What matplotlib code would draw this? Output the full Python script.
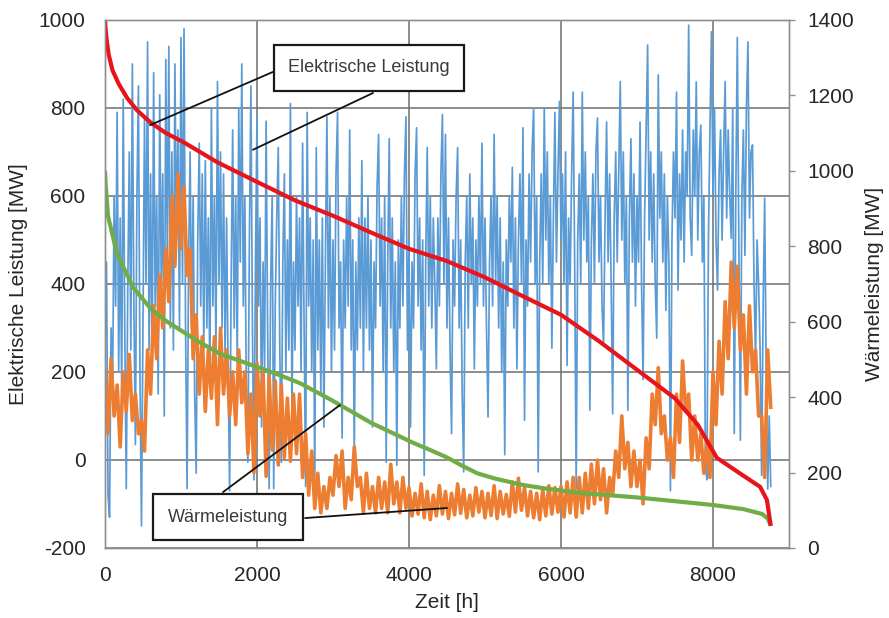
"""Hourly electric and heat output over one year, with sorted duration curves."""

import matplotlib

matplotlib.use("Agg")
import matplotlib.pyplot as plt
import numpy as np

plt.rcParams["font.family"] = ["Liberation Sans", "DejaVu Sans"]
plt.rcParams["axes.unicode_minus"] = False

# electric output [MW], left axis, every 20 h
ELEC_STEP_H = 20
ELEC_MW = [
    # 0 - 980 h
    250, 450, -80, -130, 300, 150, 600, 350, 790, 200,
    550, 150, 820, 300, -65, 400, 700, 250, 900, 350,
    35, 600, 850, 200, -150, 300, 780, 400, 950, 250,
    650, 200, 880, 350, 600, 150, 830, 400, 650, 100,
    910, 450, 940, 300, 700, 250, 900, 500, 750, 300,
    # 1000 - 1980 h
    960, 400, 980, 300, -65, 450, 700, 300, 600, 150,
    -30, 500, 720, 350, 650, 250, 680, 300, 550, 180,
    800, 350, 600, 250, 860, 400, 700, 300, 650, 230,
    550, 200, -70, 400, 750, 300, 600, 220, 800, 450,
    900, 350, 600, 150, -5, 500, 850, 300, -45, 450,
    # 2000 - 2980 h
    780, 350, 550, 75, 450, 200, 770, 300, -65, 400,
    600, -65, 350, 550, 710, 250, -5, 450, 650, 200,
    500, 250, 810, 105, 450, 250, 600, 350, 550, 200,
    720, 300, -60, 790, 350, 550, 200, 500, -65, 710,
    250, 500, 150, 550, 75, 450, 780, 300, 600, 200,
    # 3000 - 3980 h
    500, 250, 650, 790, 300, 450, 50, 500, 300, 600,
    350, 750, 250, 500, 10, 450, 250, 550, 300, 680,
    200, 550, 300, 600, 250, 500, 75, 450, 300, 620,
    740, 350, 550, 200, 600, -5, 450, 730, 300, 550,
    200, 450, -12, 500, 300, 600, 350, 650, 780, 250,
    # 4000 - 4980 h
    500, 75, 450, 300, 650, 755, 350, 550, 250, 500,
    -35, 450, 710, 350, 600, 300, 550, 400, 207, 550,
    350, 650, 785, 400, 740, 300, 550, 250, 60, 500,
    350, 600, 710, 300, 500, 150, -27, 450, 600, 300,
    650, 400, 550, 207, 500, 350, 600, 400, 720, 350,
    # 5000 - 5980 h
    550, 300, 98, 450, 600, 350, 740, 400, 600, 300,
    550, 200, 450, 12, 500, 350, 600, 450, 665, 300,
    550, 207, 500, 650, 400, 755, 90, 500, 350, 650,
    450, 700, 800, 400, 600, -27, 450, 650, 400, 800,
    500, 700, 400, 600, 254, 550, 790, 450, 650, 815,
    # 6000 - 6980 h
    500, 650, 400, 700, 215, 550, 400, 650, 836, 450,
    -65, 500, 650, 400, 836, 500, 700, 450, 600, 113,
    500, 650, 400, 700, 777, 450, 600, 350, 262, 550,
    768, 450, 650, 400, 105, 550, 700, 450, 650, 860,
    500, 700, 400, 600, 113, 550, 730, 450, 650, 350,
    # 7000 - 7980 h
    600, 450, 768, 400, 183, 550, 750, 943, 500, 700,
    450, 650, 400, 277, 875, 550, 700, 450, 650, 340,
    600, 450, -70, 500, 700, 550, 836, 386, 650, 500,
    750, 450, 700, 600, 988, 550, 465, 750, 600, 859,
    500, 700, 761, 450, 600, -12, -45, 500, 750, 973,
    # 8000 - 8760 h
    600, 800, 500, 386, 650, 750, 500, 700, 860, 550,
    750, 600, 504, 800, 60, 600, 960, 500, 45, 600,
    750, 465, 800, 950, 550, 700, 716, 400, 230, 500,
    400, 250, -35, 350, 595, 200, -66, 100, -60,
]

# heat output [MW], right axis, every 40 h
HEAT_STEP_H = 40
HEAT_MW = [
    467, 303, 502, 350, 432, 268, 467, 362, 513, 338, 408, 303, 338, 257, 525, 408, 642, 502, 723, 583, 793, 653, 933, 747, 992,
    793, 957, 723, 793, 502, 618, 408, 560, 362, 525, 397, 560, 327, 583, 408, 525, 350, 467, 327, 525, 385, 467, 250, 408, 200,
    490, 350, 467, 190, 455, 260, 443, 220, 432, 240, 397, 230, 408, 250, 408, 187, 303, 140, 257, 105, 198, 93, 163, 105, 187,
    140, 245, 163, 257, 105, 187, 128, 268, 163, 187, 93, 198, 105, 163, 93, 187, 105, 175, 93, 222, 117, 175, 93, 187, 105,
    160, 85, 145, 90, 170, 80, 150, 75, 140, 85, 165, 90, 150, 78, 145, 88, 170, 92, 155, 80, 140, 85, 160, 95, 150,
    80, 145, 86, 165, 78, 150, 90, 142, 84, 175, 95, 185, 100, 160, 85, 150, 80, 145, 75, 155, 85, 165, 90, 160, 95,
    163, 82, 175, 93, 187, 82, 187, 93, 198, 105, 222, 117, 233, 128, 210, 93, 187, 140, 257, 187, 350, 210, 280, 163, 257,
    163, 233, 117, 292, 210, 408, 327, 478, 303, 350, 233, 292, 187, 408, 280, 496, 362, 408, 233, 350, 233, 303, 198, 280, 187,
    467, 327, 548, 408, 653, 502, 758, 583, 747, 525, 618, 408, 642, 467, 525, 350, 350, 187, 525, 373,
]

# duration curve, electric [MW] (left axis)
ELEC_SORTED_H = [0, 10, 25, 50, 100, 180, 290, 420, 592, 800, 1026, 1474, 2000, 2500, 3000, 3500,
                 4000, 4500, 5000, 5500, 6000, 6500, 7000, 7500, 7800, 8050, 8350, 8620, 8710, 8760]
ELEC_SORTED_MW = [1000, 975, 950, 920, 885, 855, 823, 795, 768, 743, 723, 677, 632, 590, 555, 517,
                  480, 452, 415, 372, 330, 270, 205, 140, 80, 5, -30, -61, -91, -150]

# duration curve, heat [MW] (right axis)
HEAT_SORTED_H = [0, 10, 40, 158, 373, 600, 816, 1250, 1513, 2000, 2303, 2566, 3000, 3500,
                 4053, 4300, 4500, 4710, 4900, 5132, 5500, 5816, 6250, 7000, 7500, 8000, 8400,
                 8650, 8720, 8760]
HEAT_SORTED_MW = [1000, 960, 880, 780, 690, 635, 600, 545, 515, 480, 458, 437, 390, 332,
                  279, 258, 240, 217, 198, 184, 167, 157, 146, 134, 124, 114, 103,
                  90, 78, 60]

BLUE, ORANGE, RED, GREEN = "#5b9bd5", "#ed7d31", "#e8141c", "#70ad47"
GRID = "#6e6e6e"
SPINE = "#8f8f8f"
TEXT = "#262626"


def main() -> None:
    elec_h = np.arange(len(ELEC_MW)) * ELEC_STEP_H
    heat_h = np.arange(len(HEAT_MW)) * HEAT_STEP_H

    fig = plt.figure(figsize=(8.89, 6.18), dpi=100)
    ax = fig.add_axes([0.1181, 0.1133, 0.7694, 0.8544])
    ax2 = ax.twinx()

    ax.set_xlim(0, 9000)
    ax.set_ylim(-200, 1000)
    ax2.set_ylim(0, 1400)

    # everything is drawn in ax so the stacking order is free;
    # heat series use the right axis scale through ax2.transData
    ax.plot(elec_h, ELEC_MW, color=BLUE, lw=1.25, zorder=2)
    ax.plot(heat_h, HEAT_MW, color=ORANGE, lw=2.6, zorder=3, transform=ax2.transData)
    ax.plot(HEAT_SORTED_H, HEAT_SORTED_MW, color=GREEN, lw=3.0, zorder=4,
            transform=ax2.transData, solid_capstyle="butt")
    ax.plot(ELEC_SORTED_H, ELEC_SORTED_MW, color=RED, lw=3.0, zorder=5, solid_capstyle="butt")

    ax.set_xticks(np.arange(0, 9000, 2000))
    ax.set_yticks(np.arange(-200, 1001, 200))
    ax2.set_yticks(np.arange(0, 1401, 200))
    ax.grid(True, color=GRID, lw=1.1)
    ax.set_axisbelow(True)

    ax.tick_params(axis="both", length=0, labelsize=15, labelcolor=TEXT)
    ax.tick_params(axis="x", pad=13)
    ax.tick_params(axis="y", pad=14)
    ax2.tick_params(axis="y", length=4, width=1, color=SPINE, labelsize=15,
                    labelcolor=TEXT, pad=9)

    for a in (ax, ax2):
        for s in a.spines.values():
            s.set_color(SPINE)
            s.set_linewidth(1.0)

    ax.set_xlabel("Zeit [h]", fontsize=15, color=TEXT, labelpad=6)
    ax.set_ylabel("Elektrische Leistung [MW]", fontsize=15, color=TEXT, labelpad=8)
    ax2.set_ylabel("Wärmeleistung [MW]", fontsize=15, color=TEXT, labelpad=8)

    box = dict(boxstyle="square,pad=0.8", fc="white", ec="#1a1a1a", lw=1.6)
    ax.text(3474, 891, "Elektrische Leistung", ha="center", va="center", fontsize=13,
            color="#3a3a3a", bbox=box, zorder=10)
    ax.text(1618, -130, "Wärmeleistung", ha="center", va="center", fontsize=13,
            color="#3a3a3a", bbox=box, zorder=10)

    leader = dict(arrowstyle="-", color="#111111", lw=1.3, shrinkA=0, shrinkB=0)
    ax.annotate("", xy=(592, 761), xytext=(2211, 882), arrowprops=leader, zorder=9)
    ax.annotate("", xy=(1947, 705), xytext=(3526, 834), arrowprops=leader, zorder=9)
    ax.annotate("", xy=(3092, 379), xycoords=ax2.transData, xytext=(1553, -73),
                textcoords=ax.transData, arrowprops=leader, zorder=9)
    ax.annotate("", xy=(4500, 106), xycoords=ax2.transData, xytext=(2632, -132),
                textcoords=ax.transData, arrowprops=leader, zorder=9)

    fig.savefig("out.png", dpi=100)


if __name__ == "__main__":
    main()
